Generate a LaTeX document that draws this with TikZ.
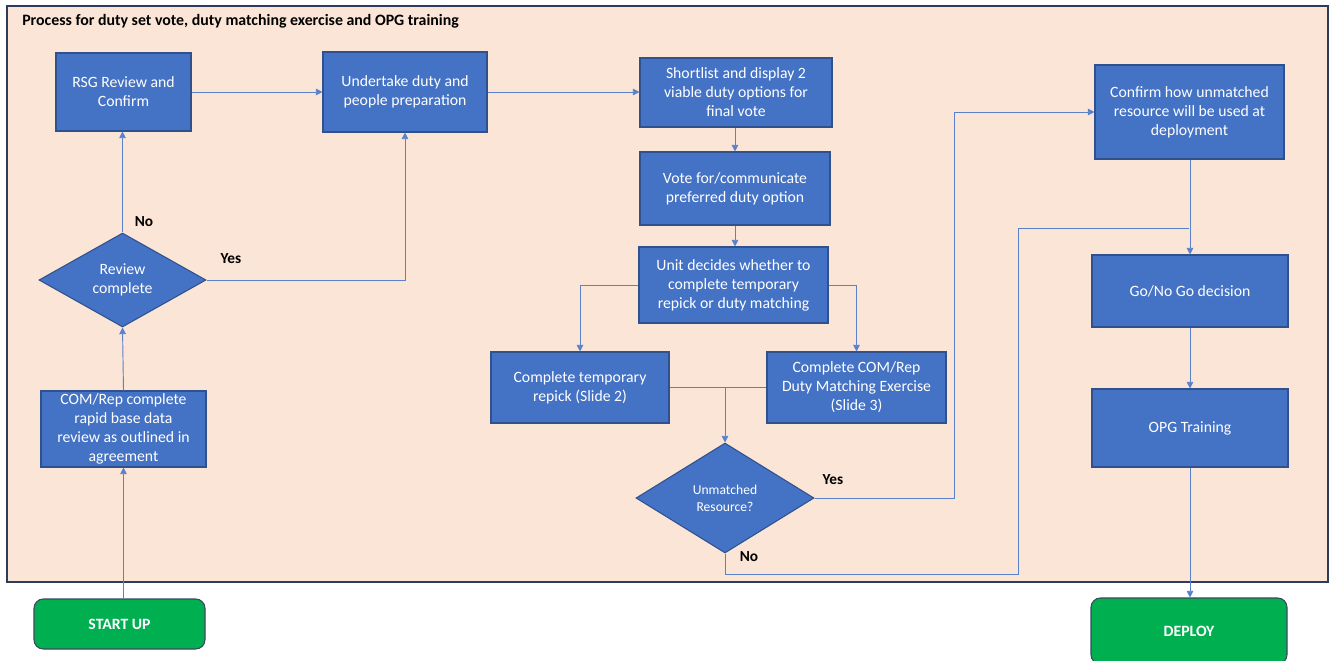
\documentclass[tikz,border=0pt]{standalone}
\usepackage{fontspec}
\setmainfont{Carlito}
\usetikzlibrary{shapes.geometric,arrows.meta}
\definecolor{boxblue}{HTML}{4472C4}
\definecolor{boxedge}{HTML}{2F528F}
\definecolor{linkblue}{HTML}{5B80CC}
\definecolor{peach}{HTML}{FBE5D6}
\definecolor{frameedge}{HTML}{2E3B5C}
\definecolor{gogreen}{HTML}{00B050}
\definecolor{greenedge}{HTML}{3A4A5E}
\tikzset{
  x=0.75pt, y=-0.75pt,
  procbox/.style={draw=boxedge, line width=0.8pt, fill=boxblue, text=white, align=center, inner sep=1pt,
    font=\fontsize{11.8}{14.2}\selectfont},
  decbox/.style={diamond, draw=boxedge, line width=0.8pt, fill=boxblue, text=white, align=center, inner sep=0pt,
    font=\fontsize{11.8}{14.2}\selectfont},
  termbox/.style={draw=greenedge, line width=0.8pt, fill=gogreen, text=white, rounded corners=7pt, align=center,
    font=\fontsize{11.8}{14}\selectfont\bfseries},
  link/.style={draw=linkblue, line width=0.7pt},
  arr/.style={link, -{Triangle[width=5pt,length=5pt]}},
  lbl/.style={font=\fontsize{11.5}{13}\selectfont\bfseries, text=black, inner sep=0pt}
}
\begin{document}
\begin{tikzpicture}
\useasboundingbox (0,0) rectangle (1330,660);
\fill[white] (0,0) rectangle (1330,660);
\draw[fill=peach, draw=frameedge, line width=0.8pt] (7,6) rectangle (1328,582);
\node[anchor=west, font=\fontsize{11.9}{13}\selectfont\bfseries, inner sep=0pt] (title) at (22,21) {Process for duty set vote, duty matching exercise and OPG training};

% boxes
\node[procbox, minimum width=101.25pt, minimum height=58.5pt] (rsg) at (123.5,92) {RSG Review and\\Confirm};
\node[procbox, minimum width=123pt, minimum height=60pt] (prep) at (405,92) {Undertake duty and\\people preparation};
\node[procbox, minimum width=144pt, minimum height=51.75pt] (short) at (736,92.5) {Shortlist and display 2\\viable duty options for\\final vote};
\node[procbox, minimum width=142.5pt, minimum height=54.75pt] (vote) at (735,188.5) {Vote for/communicate\\preferred duty option};
\node[procbox, minimum width=141.75pt, minimum height=57pt] (unit) at (733.5,285) {Unit decides whether to\\complete temporary\\repick or duty matching};
\node[procbox, minimum width=133.5pt, minimum height=53.25pt] (repick) at (580,387.5) {Complete temporary\\repick (Slide 2)};
\node[procbox, minimum width=134.25pt, minimum height=53.25pt] (dme) at (856.5,387.5) {Complete COM/Rep\\Duty Matching Exercise\\(Slide 3)};
\node[procbox, minimum width=141.75pt, minimum height=70.5pt] (confirm) at (1189.5,112) {Confirm how unmatched\\resource will be used at\\deployment};
\node[procbox, minimum width=147pt, minimum height=54pt] (gonogo) at (1190,291) {Go/No Go decision};
\node[procbox, minimum width=147pt, minimum height=58.5pt] (opg) at (1190,428) {OPG Training};
\node[procbox, minimum width=123.75pt, minimum height=57pt] (rapid) at (123.5,429) {COM/Rep complete\\rapid base data\\review as outlined in\\agreement};
\node[decbox, aspect=1.78, minimum width=125.25pt, minimum height=70.5pt] (review) at (122.5,280) {Review\\complete};
\node[decbox, aspect=1.62, minimum width=133.5pt, minimum height=82.5pt, font=\fontsize{10.2}{13}\selectfont] (unmatched) at (725,498) {Unmatched\\Resource?};
\node[termbox, minimum width=128.25pt, minimum height=37.5pt] (start) at (119.5,624) {START UP};
\node[termbox, minimum width=147pt, minimum height=49.5pt] (deploy) at (1189,631) {DEPLOY};

% connectors
\draw[arr] (start.north -| rapid.south) -- (rapid.south);
\draw[arr] (rapid.north) -- (review.south);
\draw[arr] (review.north) -- (rsg.south -| review.north);
\draw[arr] (review.east) -| (prep.south);
\draw[arr] (rsg.east) -- (prep.west);
\draw[arr] (prep.east) -- (prep.east -| short.west);
\draw[arr] (short.south -| vote.north) -- (vote.north);
\draw[arr] (vote.south) -- (unit.north -| vote.south);
\draw[arr] (unit.west) -| (repick.north);
\draw[arr] (unit.east) -| (dme.north);
\coordinate (merge) at (unmatched.north |- repick.east);
\draw[link] (repick.east) -- (merge) -- (dme.west);
\draw[arr] (merge) -- (unmatched.north);
\coordinate (yesup) at (954,498);
\draw[arr] (unmatched.east) -- (yesup) |- (confirm.west);
\coordinate (nodown) at (725,574);
\coordinate (nocorner) at (1018,574);
\coordinate (nojoin) at (1189,228);
\draw[link] (unmatched.south) -- (nodown) -- (nocorner) |- (nojoin);
\draw[arr] (confirm.south -| gonogo.north) -- (gonogo.north);
\draw[arr] (gonogo.south) -- (opg.north);
\draw[arr] (opg.south) -- (opg.south |- deploy.north);

% labels
\node[lbl] (lno1) at (144,222) {No};
\node[lbl] (lyes1) at (231,259) {Yes};
\node[lbl] (lyes2) at (833,480) {Yes};
\node[lbl] (lno2) at (749,557) {No};
\end{tikzpicture}
\end{document}
